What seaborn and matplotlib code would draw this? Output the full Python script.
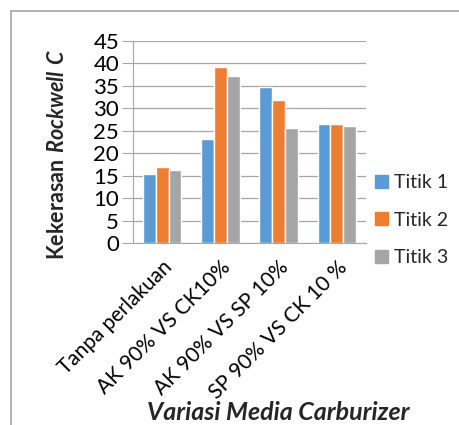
import matplotlib
matplotlib.use("Agg")
import matplotlib.pyplot as plt
import seaborn as sns
import pandas as pd
from matplotlib.lines import Line2D

categories = ["Tanpa perlakuan", "AK 90% VS CK10%", "AK 90% VS SP 10%", "SP 90% VS CK 10 %"]
titik_1 = [15.4, 23.2, 34.8, 26.6]
titik_2 = [17.0, 39.2, 31.9, 26.4]
titik_3 = [16.3, 37.3, 25.6, 26.1]
series_names = ["Titik 1", "Titik 2", "Titik 3"]
colors = ["#5B9BD5", "#ED7D31", "#A5A5A5"]

rows = []
for name, vals in zip(series_names, [titik_1, titik_2, titik_3]):
    for c, v in zip(categories, vals):
        rows.append({"Media": c, "Titik": name, "HRC": v})
df = pd.DataFrame(rows)

sns.set_style("white")
plt.rcParams["font.family"] = ["Lato", "DejaVu Sans"]
plt.rcParams["mathtext.fontset"] = "custom"
plt.rcParams["mathtext.bf"] = "Lato:bold"
plt.rcParams["mathtext.bfit"] = "Lato:bold:italic"

fig = plt.figure(figsize=(4.6, 4.25), dpi=100)
ax = fig.add_axes([133 / 460, 1 - 243 / 425, 233 / 460, 202 / 425])

sns.barplot(data=df, x="Media", y="HRC", hue="Titik", palette=colors,
            width=0.665, ax=ax, legend=False, saturation=1)

ax.set_ylim(0, 45)
ax.set_xlim(-0.5, 3.5)
ax.set_yticks(range(0, 46, 5))
ax.yaxis.grid(True, color="#A6A6A6", linewidth=0.9)
ax.set_axisbelow(True)
for s in ["top", "right"]:
    ax.spines[s].set_visible(False)
ax.spines["left"].set_color("#A6A6A6")
ax.spines["bottom"].set_color("#A6A6A6")
ax.tick_params(axis="y", length=8, color="#A6A6A6", labelsize=16, pad=2, left=True,
               labelcolor="black")
ax.tick_params(axis="x", length=0, labelsize=15, pad=10, labelcolor="black")
ax.set_xticks(range(len(categories)))
ax.set_xticklabels(categories, rotation=45, ha="right", rotation_mode="anchor")
ax.set_xlabel("")
ax.set_ylabel("")

fig.text(58 / 460, 1 - 154 / 425, r"$\mathbf{Kekerasan}\ \mathbfit{Rockwell\ C}$",
         rotation=90, ha="center", va="center", fontsize=15.5)
fig.text(278 / 460, 1 - 412 / 425, "Variasi Media Carburizer", ha="center", va="center",
         fontsize=18, fontweight="bold", fontstyle="italic")

handles = [plt.Rectangle((0, 0), 1, 1, color=c) for c in colors]
fig.legend(handles, series_names, loc="center left", bbox_to_anchor=(375 / 460, 1 - 220 / 425),
           frameon=False, fontsize=14, handlelength=0.65, handleheight=0.65,
           handletextpad=0.35, labelspacing=1.05, borderpad=0, borderaxespad=0)

# chart frame (left and top edges)
fig.add_artist(Line2D([11 / 460, 11 / 460], [0, 1 - 11 / 425], color="#A6A6A6", lw=1.2,
                      transform=fig.transFigure))
fig.add_artist(Line2D([11 / 460, 1], [1 - 11 / 425, 1 - 11 / 425], color="#A6A6A6", lw=1.2,
                      transform=fig.transFigure))

fig.savefig("out.png", dpi=100)
